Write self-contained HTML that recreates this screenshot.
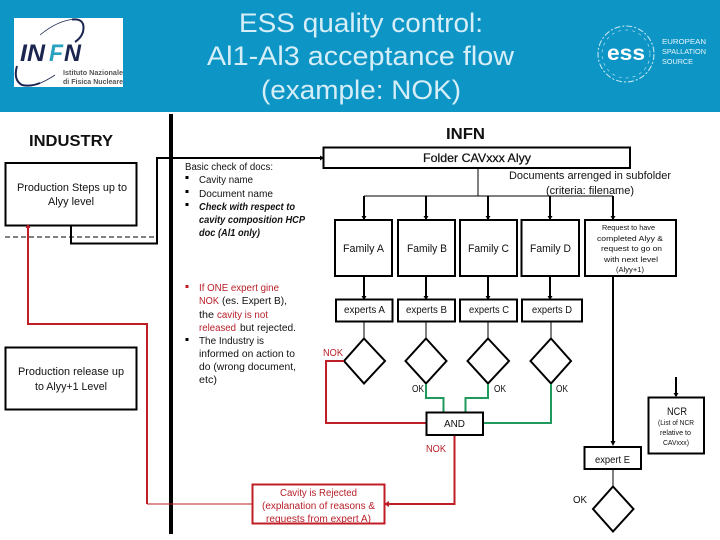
<!DOCTYPE html>
<html><head><meta charset="utf-8"><style>
html,body{margin:0;padding:0;background:#fff}
svg{display:block}
text{font-family:"Liberation Sans",sans-serif;font-size:10px;fill:#111}
.r{fill:#b8202a}
.b{fill:none;stroke:#000;stroke-width:2}
.t{fill:none;stroke:#000;stroke-width:1}
.red{fill:none;stroke:#c01e26;stroke-width:2}
.grn{fill:none;stroke:#1f9a5c;stroke-width:2}
</style></head><body>
<svg width="720" height="540" viewBox="0 0 720 540" xmlns="http://www.w3.org/2000/svg">
<rect width="720" height="540" fill="#fff"/>
<rect width="720" height="112" fill="#0d95c6"/>
<text x="239" y="32" textLength="244" lengthAdjust="spacingAndGlyphs" style="font-size:27px;fill:#d5eef7">ESS quality control:</text>
<text x="207" y="65" textLength="307" lengthAdjust="spacingAndGlyphs" style="font-size:27px;fill:#d5eef7">Al1-Al3 acceptance flow</text>
<text x="261" y="99" textLength="200" lengthAdjust="spacingAndGlyphs" style="font-size:27px;fill:#d5eef7">(example: NOK)</text>
<!-- INFN logo -->
<rect x="14" y="18" width="109" height="69" fill="#fff"/>
<path d="M40 35 Q58 20 76 19" fill="none" stroke="#1a2550" stroke-width="0.8"/>
<path d="M72 19.5 Q86 18 83 32 Q81 38 75 42" fill="none" stroke="#1a2550" stroke-width="2"/>
<path d="M17 66 Q13 80 22 85 Q30 87 40 83" fill="none" stroke="#1a2550" stroke-width="2"/>
<path d="M38 84 Q46 81 55 75" fill="none" stroke="#1a2550" stroke-width="0.8"/>
<text x="20" y="61" textLength="25" lengthAdjust="spacingAndGlyphs" style="font-size:24px;font-weight:bold;font-style:italic;fill:#1a2550">IN</text>
<text x="49" y="61" textLength="14" lengthAdjust="spacingAndGlyphs" style="font-size:24px;font-weight:bold;font-style:italic;fill:#2aa3c0">F</text>
<text x="64" y="61" textLength="17" lengthAdjust="spacingAndGlyphs" style="font-size:24px;font-weight:bold;font-style:italic;fill:#1a2550">N</text>
<text x="63" y="75" textLength="60" lengthAdjust="spacingAndGlyphs" style="font-size:7px;fill:#555;font-weight:bold">Istituto Nazionale</text>
<text x="63" y="84" textLength="60" lengthAdjust="spacingAndGlyphs" style="font-size:7px;fill:#555;font-weight:bold">di Fisica Nucleare</text>
<!-- ESS logo -->
<circle cx="626" cy="54" r="28" fill="none" stroke="#cfeaf4" stroke-width="1" stroke-dasharray="6 2 2 2"/>
<circle cx="626" cy="54" r="24" fill="none" stroke="#cfeaf4" stroke-width="0.6" stroke-dasharray="3 4"/>
<text x="607" y="60" textLength="38" lengthAdjust="spacingAndGlyphs" style="font-size:21px;font-weight:bold;fill:#fff">ess</text>
<text x="662" y="44" textLength="44" lengthAdjust="spacingAndGlyphs" style="font-size:7px;fill:#e6f5fa">EUROPEAN</text>
<text x="662" y="54" textLength="44" lengthAdjust="spacingAndGlyphs" style="font-size:7px;fill:#e6f5fa">SPALLATION</text>
<text x="662" y="64" textLength="31" lengthAdjust="spacingAndGlyphs" style="font-size:7px;fill:#e6f5fa">SOURCE</text>

<!-- divider -->
<rect x="169" y="114" width="4" height="420" fill="#000"/>

<text x="29" y="146" textLength="84" lengthAdjust="spacingAndGlyphs" style="font-size:16px;font-weight:bold">INDUSTRY</text>
<text x="446" y="139" textLength="39" lengthAdjust="spacingAndGlyphs" style="font-size:16px;font-weight:bold">INFN</text>

<!-- left boxes and connectors -->
<path d="M5 237H155" fill="none" stroke="#000" stroke-width="1" stroke-dasharray="5 3"/>
<path d="M28 226V324H147V504" class="red"/>
<path d="M147 504H252" fill="none" stroke="#c01e26" stroke-width="1"/>
<path d="M71 226V243.5H157V158H323" class="b"/>
<rect x="5.5" y="163" width="131" height="62.5" fill="#fff" class="b"/>
<rect x="5.5" y="347.5" width="131" height="62" fill="#fff" class="b"/>
<path d="M25.5 228L28 224L30.5 228Z" fill="#c01e26"/>
<text x="17" y="191" textLength="110" lengthAdjust="spacingAndGlyphs" style="font-size:11px">Production Steps up to</text>
<text x="48" y="205" textLength="46" lengthAdjust="spacingAndGlyphs" style="font-size:11px">Alyy level</text>
<text x="18" y="375" textLength="106" lengthAdjust="spacingAndGlyphs" style="font-size:11px">Production release up</text>
<text x="35" y="390" textLength="72" lengthAdjust="spacingAndGlyphs" style="font-size:11px">to Alyy+1 Level</text>

<!-- notes -->
<text x="185" y="170" textLength="88" lengthAdjust="spacingAndGlyphs">Basic check of docs:</text>
<rect x="185.5" y="176" width="3" height="3" fill="#000"/>
<rect x="185.5" y="190" width="3" height="3" fill="#000"/>
<rect x="185.5" y="203" width="3" height="3" fill="#000"/>
<text x="199" y="183" textLength="54" lengthAdjust="spacingAndGlyphs">Cavity name</text>
<text x="199" y="197" textLength="74" lengthAdjust="spacingAndGlyphs">Document name</text>
<text x="199" y="210" textLength="96" lengthAdjust="spacingAndGlyphs" style="font-weight:bold;font-style:italic">Check with respect to</text>
<text x="199" y="223" textLength="106" lengthAdjust="spacingAndGlyphs" style="font-weight:bold;font-style:italic">cavity composition HCP</text>
<text x="199" y="236" textLength="61" lengthAdjust="spacingAndGlyphs" style="font-weight:bold;font-style:italic">doc (Al1 only)</text>
<rect x="185.5" y="285" width="3" height="3" fill="#c01e26"/>
<rect x="185.5" y="338" width="3" height="3" fill="#000"/>
<text class="r" x="199" y="291" textLength="80" lengthAdjust="spacingAndGlyphs">If ONE expert gine</text>
<text class="r" x="199" y="304" textLength="20" lengthAdjust="spacingAndGlyphs">NOK</text>
<text x="222" y="304" textLength="65" lengthAdjust="spacingAndGlyphs">(es. Expert B),</text>
<text x="199" y="318" textLength="15" lengthAdjust="spacingAndGlyphs">the</text>
<text class="r" x="217" y="318" textLength="51" lengthAdjust="spacingAndGlyphs">cavity is not</text>
<text class="r" x="199" y="331" textLength="37" lengthAdjust="spacingAndGlyphs">released</text>
<text x="240" y="331" textLength="56" lengthAdjust="spacingAndGlyphs">but rejected.</text>
<text x="199" y="344" textLength="65" lengthAdjust="spacingAndGlyphs">The Industry is</text>
<text x="199" y="357" textLength="96" lengthAdjust="spacingAndGlyphs">informed on action to</text>
<text x="199" y="370" textLength="97" lengthAdjust="spacingAndGlyphs">do (wrong document,</text>
<text x="199" y="383" textLength="18" lengthAdjust="spacingAndGlyphs">etc)</text>

<!-- folder -->
<rect x="323.5" y="147.5" width="306.5" height="20.5" fill="#fff" class="b"/>
<path d="M320 155.5L324 158L320 160.5Z" fill="#000"/>
<text x="423" y="162" textLength="108" lengthAdjust="spacingAndGlyphs" style="font-size:12px;stroke:#111;stroke-width:0.25">Folder CAVxxx Alyy</text>
<text x="509" y="179" textLength="162" lengthAdjust="spacingAndGlyphs" style="font-size:11px">Documents arrenged in subfolder</text>
<text x="546" y="194" textLength="88" lengthAdjust="spacingAndGlyphs" style="font-size:11px">(criteria: filename)</text>

<path d="M478 168V196" class="t"/>
<path d="M364 196H613" class="t"/>
<path d="M364 196V219M426 196V219M488 196V219M550 196V219M613 196V219" class="b"/>
<path d="M361.5 216L364 220L366.5 216ZM423.5 216L426 220L428.5 216ZM485.5 216L488 220L490.5 216ZM547.5 216L550 220L552.5 216ZM610.5 216L613 220L615.5 216Z" fill="#000"/>

<!-- families -->
<rect x="335" y="220" width="57" height="56" fill="#fff" class="b"/>
<rect x="398" y="220" width="57" height="56" fill="#fff" class="b"/>
<rect x="460" y="220" width="57" height="56" fill="#fff" class="b"/>
<rect x="521.5" y="220" width="57.5" height="56" fill="#fff" class="b"/>
<rect x="585" y="220" width="91" height="56" fill="#fff" class="b"/>
<text x="343" y="252" textLength="41" lengthAdjust="spacingAndGlyphs" style="font-size:11px">Family A</text>
<text x="407" y="252" textLength="40" lengthAdjust="spacingAndGlyphs" style="font-size:11px">Family B</text>
<text x="468" y="252" textLength="41" lengthAdjust="spacingAndGlyphs" style="font-size:11px">Family C</text>
<text x="530" y="252" textLength="41" lengthAdjust="spacingAndGlyphs" style="font-size:11px">Family D</text>
<text x="602" y="230" textLength="53" lengthAdjust="spacingAndGlyphs" style="font-size:7.5px">Request to have</text>
<text x="597" y="241" textLength="66" lengthAdjust="spacingAndGlyphs" style="font-size:7.5px">completed Alyy &amp;</text>
<text x="601" y="251" textLength="61" lengthAdjust="spacingAndGlyphs" style="font-size:7.5px">request to go on</text>
<text x="604" y="262" textLength="54" lengthAdjust="spacingAndGlyphs" style="font-size:7.5px">with next level</text>
<text x="616" y="272" textLength="28" lengthAdjust="spacingAndGlyphs" style="font-size:7.5px">(Alyy+1)</text>

<!-- family to experts -->
<path d="M364 276V299M426 276V299M488 276V299M550 276V299" class="b"/>
<path d="M361.5 296L364 300L366.5 296ZM423.5 296L426 300L428.5 296ZM485.5 296L488 300L490.5 296ZM547.5 296L550 300L552.5 296Z" fill="#000"/>
<rect x="336" y="299.5" width="56.5" height="22" fill="#fff" class="b"/>
<rect x="398" y="299.5" width="57" height="22" fill="#fff" class="b"/>
<rect x="460" y="299.5" width="57" height="22" fill="#fff" class="b"/>
<rect x="522" y="299.5" width="60" height="22" fill="#fff" class="b"/>
<text x="344" y="313" textLength="41" lengthAdjust="spacingAndGlyphs">experts A</text>
<text x="406" y="313" textLength="41" lengthAdjust="spacingAndGlyphs">experts B</text>
<text x="469" y="313" textLength="40" lengthAdjust="spacingAndGlyphs">experts C</text>
<text x="532" y="313" textLength="40" lengthAdjust="spacingAndGlyphs">experts D</text>

<!-- experts to diamonds -->
<path d="M364 322V338M426 322V338M488 322V338M551 322V338" class="t"/>
<path d="M364 338.5L385 361L364 383.5L344 361Z" fill="#fff" class="b"/>
<path d="M426 338.5L446.5 361L426 383.5L405.5 361Z" fill="#fff" class="b"/>
<path d="M488 338.5L509 361L488 383.5L467.5 361Z" fill="#fff" class="b"/>
<path d="M551 338.5L571 361L551 383.5L530.5 361Z" fill="#fff" class="b"/>

<!-- red and green flows -->
<path d="M344 361H326V423H426" class="red"/>
<path d="M426 384V398H443.5V412" class="grn"/>
<path d="M488 384V398H465.5V412" class="grn"/>
<path d="M551 384V423H483" class="grn"/>
<path d="M454.5 435V504H385" class="red"/>
<path d="M389 501L384 504L389 507Z" fill="#c01e26"/>
<rect x="426.5" y="412.5" width="56.5" height="22.5" fill="#fff" class="b"/>
<text x="444" y="427" textLength="21" lengthAdjust="spacingAndGlyphs">AND</text>
<text class="r" x="323" y="356" textLength="20" lengthAdjust="spacingAndGlyphs">NOK</text>
<text x="412" y="392" textLength="12" lengthAdjust="spacingAndGlyphs">OK</text>
<text x="494" y="392" textLength="12" lengthAdjust="spacingAndGlyphs">OK</text>
<text x="556" y="392" textLength="12" lengthAdjust="spacingAndGlyphs">OK</text>
<text class="r" x="426" y="452" textLength="20" lengthAdjust="spacingAndGlyphs">NOK</text>

<!-- rejected -->
<rect x="252.5" y="484.5" width="132" height="39" fill="#fff" class="red"/>
<text class="r" x="280" y="496" textLength="77" lengthAdjust="spacingAndGlyphs">Cavity is Rejected</text>
<text class="r" x="262" y="509" textLength="113" lengthAdjust="spacingAndGlyphs">(explanation of reasons &amp;</text>
<text class="r" x="266" y="522" textLength="105" lengthAdjust="spacingAndGlyphs">requests from expert A)</text>

<!-- expert E -->
<path d="M613 276V444" class="b"/>
<path d="M610.5 441L613 446L615.5 441Z" fill="#000"/>
<rect x="584.5" y="447" width="56.5" height="22" fill="#fff" class="b"/>
<text x="595" y="463" textLength="35" lengthAdjust="spacingAndGlyphs">expert E</text>
<path d="M613 469V486" class="t"/>
<path d="M613 486.5L633.5 509L613 531.5L593 509Z" fill="#fff" class="b"/>
<text x="573" y="503" textLength="14" lengthAdjust="spacingAndGlyphs">OK</text>

<!-- NCR -->
<path d="M676 377V396" class="b"/>
<path d="M673.5 393L676 397L678.5 393Z" fill="#000"/>
<rect x="648.5" y="397.5" width="55.5" height="56" fill="#fff" class="b"/>
<text x="667" y="415" textLength="20" lengthAdjust="spacingAndGlyphs" style="font-size:11px">NCR</text>
<text x="658" y="425" textLength="36" lengthAdjust="spacingAndGlyphs" style="font-size:7px">(List of NCR</text>
<text x="660" y="435" textLength="31" lengthAdjust="spacingAndGlyphs" style="font-size:7px">relative to</text>
<text x="663" y="445" textLength="26" lengthAdjust="spacingAndGlyphs" style="font-size:7px">CAVxxx)</text>
</svg>
</body></html>
